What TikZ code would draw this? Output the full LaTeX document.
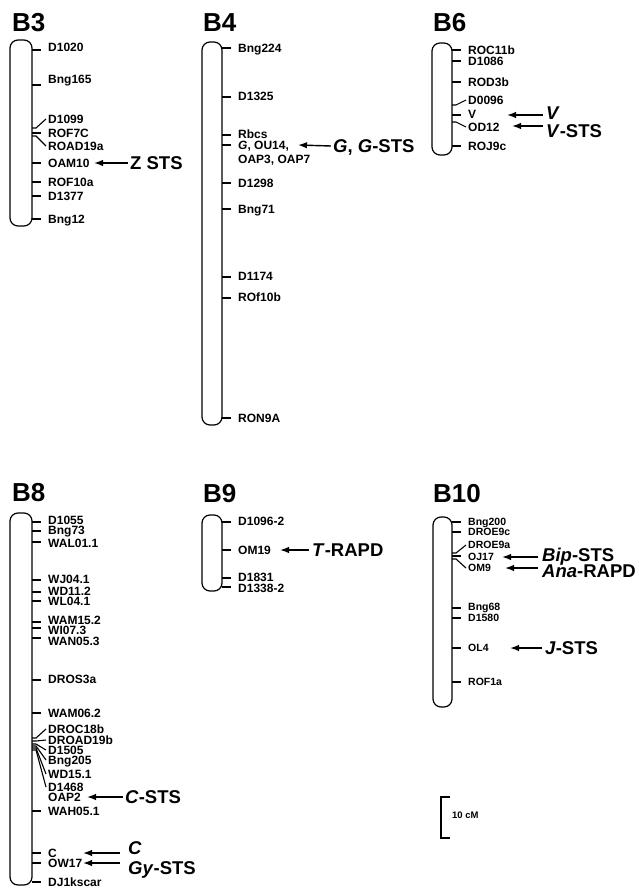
\documentclass[tikz,border=0pt]{standalone}
\usepackage{fontspec}
\setmainfont{Liberation Sans}
\usetikzlibrary{arrows.meta}
\tikzset{
  chrom/.style={draw, line width=1.2pt, rounded corners=8pt},
  ttl/.style={font=\fontsize{26}{26}\selectfont\bfseries, anchor=west, inner sep=0pt, text height=18.7pt, text depth=0pt},
  lbl/.style={font=\fontsize{12}{12}\selectfont\bfseries, anchor=west, inner sep=0pt, text height=8.6pt, text depth=0pt},
  slbl/.style={font=\fontsize{10.5}{10.5}\selectfont\bfseries, anchor=west, inner sep=0pt, text height=7.5pt, text depth=0pt},
  big/.style={font=\fontsize{18.5}{18.5}\selectfont\bfseries, anchor=west, inner sep=0pt, text height=13.3pt, text depth=0pt},
  tk/.style={line width=1.1pt},
  arr/.style={line width=1.4pt, -{Latex[length=9pt,width=6.5pt]}},
}
% straight tick: #1 chrom right x, #2 tick y, #3 text y, #4 name, #5 text, #6 style
\newcommand\mkS[6]{%
  \node[#6] (#4) at (#1+16,#3) {#5};
  \draw[tk] (#1,#2) -- (#1+9,#2);}
% bent tick
\newcommand\mkB[6]{%
  \node[#6] (#4) at (#1+16,#3) {#5};
  \draw[tk] (#1,#2) -- (#1+4,#2) -- ([xshift=-2pt]#4.west);}
\begin{document}
\begin{tikzpicture}[x=1pt,y=-1pt]
\useasboundingbox (0,0) rectangle (638,888);

% ---------- B3 ----------
\node[ttl] (tB3) at (12,22) {B3};
\draw[chrom] (10,40) rectangle (32,226);
\mkS{32}{50}{47}{d1020}{D1020}{lbl}
\mkS{32}{85}{79}{bng165}{Bng165}{lbl}
\mkB{32}{128}{119}{d1099}{D1099}{lbl}
\mkS{32}{133}{133}{rof7c}{ROF7C}{lbl}
\mkB{32}{136}{146}{road19a}{ROAD19a}{lbl}
\mkS{32}{163}{163}{oam10}{OAM10}{lbl}
\mkS{32}{182}{182}{rof10a}{ROF10a}{lbl}
\mkS{32}{196}{196}{d1377}{D1377}{lbl}
\mkS{32}{219}{219}{bng12}{Bng12}{lbl}
\node[big] (zsts) at (130,163) {Z STS};
\coordinate (zt) at (94,163);
\draw[arr] ([xshift=-2pt]zsts.west) -- (zt);

% ---------- B4 ----------
\node[ttl] (tB4) at (203,22) {B4};
\draw[chrom] (202,42) rectangle (222,425);
\mkS{222}{48}{48}{bng224}{Bng224}{lbl}
\mkS{222}{97}{96}{d1325}{D1325}{lbl}
\mkS{222}{135}{134}{rbcs}{Rbcs}{lbl}
\mkS{222}{145}{145}{gou14}{\textit{G}, OU14,}{lbl}
\node[lbl] (oap37) at (238,159) {OAP3, OAP7};
\mkS{222}{183}{183}{d1298}{D1298}{lbl}
\mkS{222}{209}{209}{bng71}{Bng71}{lbl}
\mkS{222}{277}{276}{d1174}{D1174}{lbl}
\mkS{222}{298}{297}{rof10b}{ROf10b}{lbl}
\mkS{222}{418}{418}{ron9a}{RON9A}{lbl}
\node[big] (gsts) at (333,146) {\textit{G}, \textit{G}-STS};
\coordinate (gt) at (298,145);
\draw[arr] ([xshift=-2pt]gsts.west) -- (gt);

% ---------- B6 ----------
\node[ttl] (tB6) at (433,22) {B6};
\draw[chrom] (432,43) rectangle (452,155);
\mkS{452}{50}{50}{roc11b}{ROC11b}{lbl}
\mkS{452}{61}{61}{d1086}{D1086}{lbl}
\mkS{452}{82}{82}{rod3b}{ROD3b}{lbl}
\mkB{452}{105}{100}{d0096}{D0096}{lbl}
\mkS{452}{115}{114}{v}{V}{lbl}
\mkB{452}{122}{127}{od12}{OD12}{lbl}
\mkS{452}{146}{146}{roj9c}{ROJ9c}{lbl}
\node[big] (vbig) at (546,113) {\textit{V}};
\coordinate (vt) at (507,115);
\draw[arr] (543,115) -- (vt);
\node[big] (vsts) at (546,131) {\textit{V}-STS};
\coordinate (vst) at (512,126);
\draw[arr] (543,126) -- (vst);

% ---------- B8 ----------
\node[ttl] (tB8) at (12,492) {B8};
\draw[chrom] (10,513) rectangle (32,885);
\mkS{32}{522}{520}{d1055}{D1055}{lbl}
\mkS{32}{531}{530}{bng73}{Bng73}{lbl}
\mkS{32}{542}{543}{wal011}{WAL01.1}{lbl}
\mkS{32}{580}{579}{wj041}{WJ04.1}{lbl}
\mkS{32}{592}{591}{wd112}{WD11.2}{lbl}
\mkS{32}{601}{601}{wl041}{WL04.1}{lbl}
\mkS{32}{622}{620}{wam152}{WAM15.2}{lbl}
\mkS{32}{628}{630}{wi073}{WI07.3}{lbl}
\mkS{32}{638}{641}{wan053}{WAN05.3}{lbl}
\mkS{32}{680}{679}{dros3a}{DROS3a}{lbl}
\mkS{32}{713}{713}{wam062}{WAM06.2}{lbl}
\mkB{32}{738}{729}{droc18b}{DROC18b}{lbl}
\mkB{32}{741}{740}{droad19b}{DROAD19b}{lbl}
\mkB{32}{744}{750}{d1505}{D1505}{lbl}
\mkB{32}{746}{760}{bng205}{Bng205}{lbl}
\mkB{32}{748}{774}{wd151}{WD15.1}{lbl}
\mkB{32}{750}{787}{d1468}{D1468}{lbl}
\node[lbl] (oap2) at (48,797) {OAP2};
\mkS{32}{811}{811}{wah051}{WAH05.1}{lbl}
\mkS{32}{853}{853}{c}{C}{lbl}
\mkS{32}{863}{863}{ow17}{OW17}{lbl}
\mkS{32}{882}{882}{dj1}{DJ1kscar}{lbl}
\node[big] (csts) at (125,797) {\textit{C}-STS};
\coordinate (cst) at (87,797);
\draw[arr] ([xshift=-2pt]csts.west) -- (cst);
\node[big] (cbig) at (128,848) {\textit{C}};
\coordinate (cbt) at (83,853);
\draw[arr] (120,853) -- (cbt);
\node[big] (gysts) at (128,868) {\textit{Gy}-STS};
\coordinate (gyt) at (83,863);
\draw[arr] (120,863) -- (gyt);

% ---------- B9 ----------
\node[ttl] (tB9) at (203,493) {B9};
\draw[chrom] (202,515) rectangle (222,591);
\mkS{222}{522}{521}{d10962}{D1096-2}{lbl}
\mkS{222}{550}{550}{om19}{OM19}{lbl}
\mkS{222}{578}{577}{d1831}{D1831}{lbl}
\mkS{222}{587}{588}{d13382}{D1338-2}{lbl}
\node[big] (trapd) at (312,550) {\textit{T}-RAPD};
\coordinate (tt) at (280,550);
\draw[arr] ([xshift=-3pt]trapd.west) -- (tt);

% ---------- B10 ----------
\node[ttl] (tB10) at (433,493) {B10};
\draw[chrom] (433,517) rectangle (452,707);
\mkS{452}{522}{522}{bng200}{Bng200}{slbl}
\mkS{452}{532}{532}{droe9c}{DROE9c}{slbl}
\mkB{452}{553}{545}{droe9a}{DROE9a}{slbl}
\mkS{452}{556}{557}{oj17}{OJ17}{slbl}
\mkB{452}{559}{568}{om9}{OM9}{slbl}
\mkS{452}{608}{607}{bng68}{Bng68}{slbl}
\mkS{452}{618}{618}{d1580}{D1580}{slbl}
\mkS{452}{648}{648}{ol4}{OL4}{slbl}
\mkS{452}{682}{682}{rof1a}{ROF1a}{slbl}
\node[big] (bip) at (542,555) {\textit{Bip}-STS};
\coordinate (bipt) at (502,557);
\draw[arr] (538,557) -- (bipt);
\node[big] (ana) at (542,571) {\textit{Ana}-RAPD};
\coordinate (anat) at (505,568);
\draw[arr] (538,568) -- (anat);
\node[big] (jsts) at (545,648) {\textit{J}-STS};
\coordinate (jt) at (510,648);
\draw[arr] ([xshift=-3pt]jsts.west) -- (jt);

% ---------- scale ----------
\draw[line width=1.1pt] (450,797) -- (441,797) -- (441,838) -- (450,838);
\node[font=\fontsize{9.5}{9.5}\selectfont\bfseries, anchor=west, inner sep=0pt, text height=6.8pt, text depth=0pt] (scl) at (452,815) {10 cM};
\end{tikzpicture}
\end{document}
